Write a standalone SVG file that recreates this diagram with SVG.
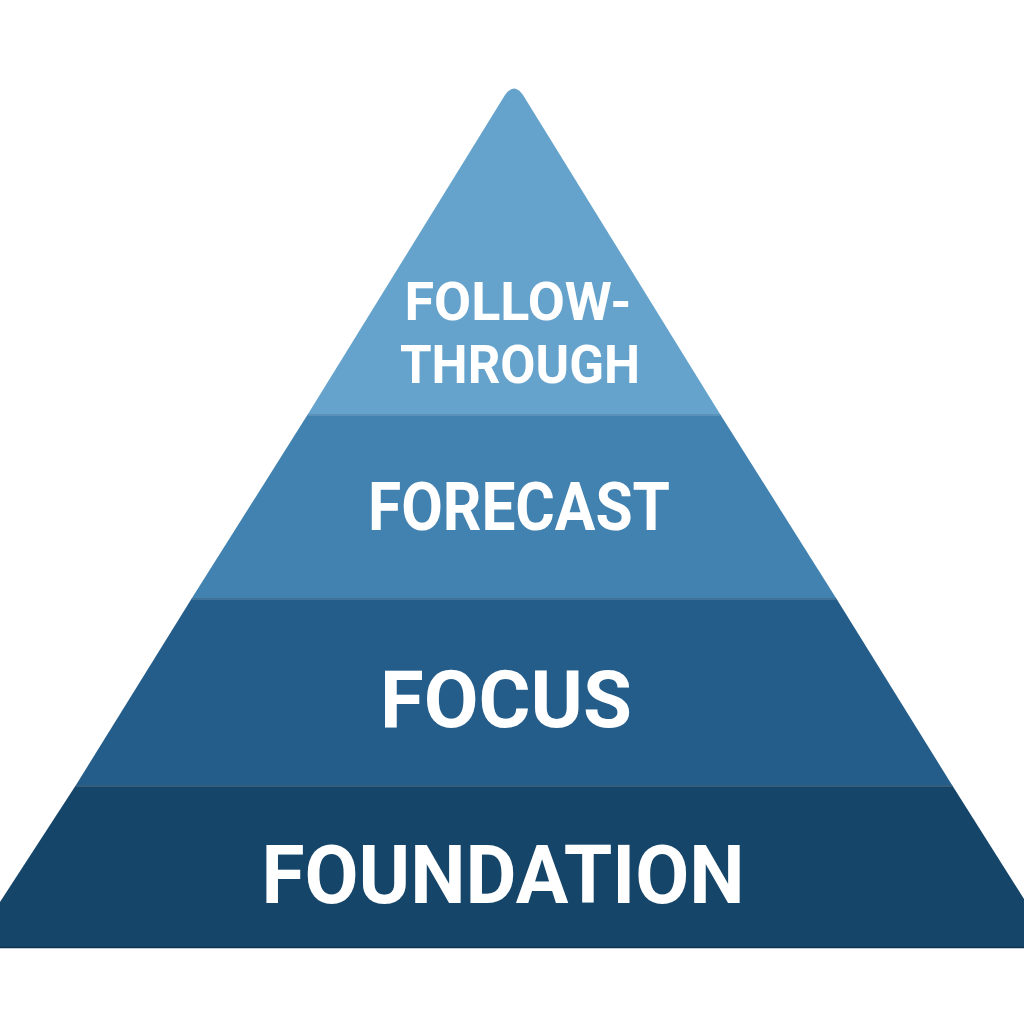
<svg xmlns="http://www.w3.org/2000/svg" width="1024" height="1024" viewBox="0 0 1024 1024">
<style>
.lbl{font-family:Roboto,"Liberation Sans",Arial,sans-serif;font-weight:700;fill:#ffffff;text-anchor:middle}
.hl{stroke:#ffffff;stroke-opacity:0.18;stroke-width:1.5}
</style>
<rect width="1024" height="1024" fill="#ffffff"/>
<g id="layer-follow-through">
<path d="M505,95 Q514,82 523,95 L720,414 L308,414 Z" fill="#65a3cc"/>
<text class="lbl" x="518" y="320" font-size="53" textLength="227" lengthAdjust="spacingAndGlyphs">FOLLOW-</text>
<text class="lbl" x="520" y="383" font-size="53" textLength="240" lengthAdjust="spacingAndGlyphs">THROUGH</text>
</g>
<g id="layer-forecast">
<path d="M308,414 L720,414 L836,598 L192,598 Z" fill="#4282b0"/>
<line class="hl" x1="308" y1="415" x2="720" y2="415"/>
<text class="lbl" x="519" y="530" font-size="66" textLength="302" lengthAdjust="spacingAndGlyphs">FORECAST</text>
</g>
<g id="layer-focus">
<path d="M192,598 L836,598 L952,785 L76,785 Z" fill="#245d8a"/>
<line class="hl" x1="192" y1="599" x2="836" y2="599"/>
<text class="lbl" x="506" y="727" font-size="80" textLength="252" lengthAdjust="spacingAndGlyphs">FOCUS</text>
</g>
<g id="layer-foundation">
<path d="M76,785 L952,785 L1024,899 L1024,948 L0,948 L0,902 Z" fill="#154569"/>
<line class="hl" x1="76" y1="786" x2="952" y2="786"/>
<line x1="0" y1="947.5" x2="1024" y2="947.5" stroke="#0e3352" stroke-width="1.5"/>
<text class="lbl" x="503" y="903" font-size="82" textLength="483" lengthAdjust="spacingAndGlyphs">FOUNDATION</text>
</g>
<g id="connectors"/>
</svg>
